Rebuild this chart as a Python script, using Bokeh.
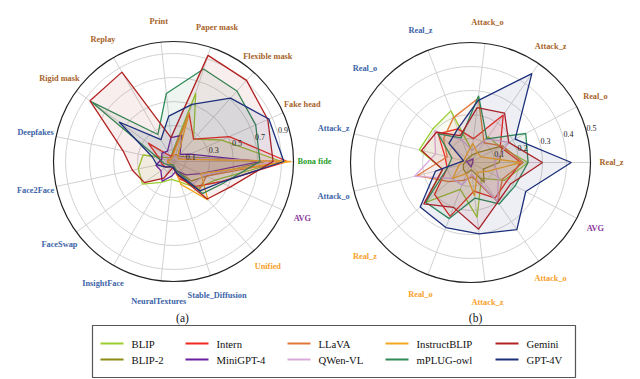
import numpy as np
from bokeh.plotting import figure
from bokeh.models import Range1d
from bokeh.core.properties import value
from bokeh.embed import file_html
from bokeh.resources import INLINE

# ---------------- data ----------------
models = ["BLIP", "BLIP-2", "Intern", "MiniGPT-4", "LLaVA", "QWen-VL",
          "InstructBLIP", "mPLUG-owl", "Gemini", "GPT-4V"]
model_colors = ["#9acd32", "#8c8c14", "#f0281e", "#6a1fa0", "#e07838", "#d9a8d9",
                "#f5a623", "#2e8b57", "#b22222", "#1c2f7a"]

cats_a = ["Bona fide", "Fake head", "Flexible mask", "Paper mask", "Print", "Replay",
          "Rigid mask", "Deepfakes", "Face2Face", "FaceSwap", "InsightFace",
          "NeuralTextures", "Stable_Diffusion", "Unified", "AVG"]
cat_group_a = ["green", "brown", "brown", "brown", "brown", "brown", "brown",
               "blue", "blue", "blue", "blue", "blue", "blue", "orange", "purple"]
ticks_a = [0.1, 0.3, 0.5, 0.7, 0.9]
vmax_a = 1.0

blip_a = [0.90, 0.44, 0.25, 0.60, 0.08, 0.04, 0.05, 0.26, 0.30, 0.32, 0.20, 0.15, 0.18, 0.30, 0.38]
blip2_a = [0.76, 0.10, 0.06, 0.06, 0.04, 0.03, 0.03, 0.05, 0.05, 0.04, 0.04, 0.05, 0.08, 0.22, 0.30]
intern_a = [0.95, 0.51, 0.25, 0.42, 0.06, 0.05, 0.26, 0.12, 0.10, 0.08, 0.05, 0.05, 0.15, 0.28, 0.42]
minigpt4_a = [0.72, 0.15, 0.08, 0.23, 0.20, 0.10, 0.12, 0.10, 0.15, 0.13, 0.19, 0.12, 0.08, 0.15, 0.25]
llava_a = [0.93, 0.06, 0.05, 0.06, 0.04, 0.04, 0.05, 0.05, 0.05, 0.04, 0.04, 0.05, 0.12, 0.32, 0.30]
qwen_a = [0.85, 0.08, 0.05, 0.05, 0.03, 0.03, 0.04, 0.06, 0.05, 0.05, 0.04, 0.06, 0.10, 0.25, 0.28]
instructblip_a = [0.98, 0.05, 0.05, 0.43, 0.05, 0.03, 0.03, 0.05, 0.05, 0.03, 0.03, 0.03, 0.20, 0.43, 0.25]
mplug_a = [0.72, 0.75, 0.79, 0.81, 0.57, 0.26, 0.85, 0.13, 0.08, 0.05, 0.03, 0.03, 0.08, 0.36, 0.45]
gemini_a = [0.83, 0.86, 0.91, 0.93, 0.20, 0.86, 0.86, 0.43, 0.35, 0.30, 0.16, 0.05, 0.12, 0.42, 0.52]
gpt4v_a = [0.92, 0.87, 0.71, 0.50, 0.38, 0.21, 0.56, 0.18, 0.14, 0.08, 0.05, 0.05, 0.11, 0.33, 0.43]

cats_b = ["Real_z", "Real_o", "Attack_z", "Attack_o",
          "Real_z", "Real_o", "Attack_z", "Attack_o",
          "Real_z", "Real_o", "Attack_z", "Attack_o", "AVG"]
cat_group_b = ["brown"] * 4 + ["blue"] * 4 + ["orange"] * 4 + ["purple"]
ticks_b = [0.1, 0.2, 0.3, 0.4, 0.5]
vmax_b = 0.5

blip_b = [0.24, 0.14, 0.13, 0.05, 0.23, 0.21, 0.22, 0.12, 0.25, 0.12, 0.23, 0.08, 0.16]
blip2_b = [0.12, 0.15, 0.05, 0.03, 0.02, 0.02, 0.02, 0.03, 0.04, 0.05, 0.03, 0.10, 0.06]
intern_b = [0.21, 0.14, 0.24, 0.10, 0.15, 0.18, 0.11, 0.10, 0.20, 0.24, 0.12, 0.18, 0.17]
minigpt4_b = [0.01, 0.01, 0.02, 0.01, 0.01, 0.01, 0.02, 0.01, 0.01, 0.01, 0.02, 0.01, 0.01]
llava_b = [0.22, 0.15, 0.10, 0.27, 0.20, 0.15, 0.10, 0.23, 0.12, 0.08, 0.06, 0.20, 0.15]
qwen_b = [0.10, 0.18, 0.12, 0.05, 0.10, 0.20, 0.15, 0.24, 0.10, 0.10, 0.05, 0.20, 0.13]
instructblip_b = [0.21, 0.05, 0.05, 0.08, 0.04, 0.03, 0.03, 0.05, 0.10, 0.05, 0.14, 0.05, 0.08]
mplug_b = [0.24, 0.26, 0.12, 0.28, 0.11, 0.18, 0.08, 0.10, 0.25, 0.25, 0.15, 0.21, 0.21]
gemini_b = [0.30, 0.18, 0.25, 0.23, 0.12, 0.19, 0.21, 0.12, 0.26, 0.20, 0.28, 0.20, 0.19]
gpt4v_b = [0.42, 0.21, 0.45, 0.26, 0.15, 0.12, 0.03, 0.15, 0.28, 0.29, 0.30, 0.34, 0.26]

series_a = [blip_a, blip2_a, intern_a, minigpt4_a, llava_a, qwen_a,
            instructblip_a, mplug_a, gemini_a, gpt4v_a]
series_b = [blip_b, blip2_b, intern_b, minigpt4_b, llava_b, qwen_b,
            instructblip_b, mplug_b, gemini_b, gpt4v_b]

group_colors = {"brown": "#a8642a", "blue": "#3c64a8", "green": "#1f9e1f",
                "orange": "#f7a02a", "purple": "#8e3a9c"}

# ---------------- figure ----------------
W, H = 640, 379
p = figure(width=W, height=H, x_range=Range1d(0, W), y_range=Range1d(H, 0),
           output_backend="svg", toolbar_location=None, min_border=0,
           x_axis_type=None, y_axis_type=None)
p.grid.visible = False
p.outline_line_color = None
p.background_fill_color = "white"
p.border_fill_color = "white"

R = 120.0
LABEL_R = 141.0
SERIF = value("Liberation Serif")


def radar(cx, cy, cats, groups, ticks, vmax, series):
    n = len(cats)
    ang = np.arange(n) * 2 * np.pi / n
    # grid circles
    grid_r = [t / vmax * R for t in ticks if t < vmax]
    p.circle(x=[cx] * len(grid_r), y=[cy] * len(grid_r), radius=grid_r,
             fill_color=None, line_color="#d2d2d2", line_width=1)
    # spokes
    p.segment(x0=[cx] * n, y0=[cy] * n, x1=list(cx + R * np.cos(ang)),
              y1=list(cy - R * np.sin(ang)), line_color="#d2d2d2", line_width=1)
    # outer circle
    p.circle(x=[cx], y=[cy], radius=[R], fill_color=None, line_color="#222222",
             line_width=1.2)
    # series polygons
    for vals, col in zip(series, model_colors):
        v = np.array(vals) / vmax * R
        xs = list(cx + v * np.cos(ang)) + [cx + v[0]]
        ys = list(cy - v * np.sin(ang)) + [cy]
        p.patch(xs, ys, fill_color=col, fill_alpha=0.08, line_color=col,
                line_width=1.3)
    # radial tick labels
    ta = np.deg2rad(16)
    tr = np.array([t / vmax * R + 6 for t in ticks])
    p.text(x=list(cx + tr * np.cos(ta)), y=list(cy - tr * np.sin(ta)),
           text=[f"{t:.1f}" for t in ticks], text_align="center",
           text_baseline="middle", text_font=SERIF, text_font_size="8px",
           text_color="#222222")
    # category labels
    p.text(x=list(cx + LABEL_R * np.cos(ang)), y=list(cy - LABEL_R * np.sin(ang)),
           text=cats, text_align="center", text_baseline="middle",
           text_font=SERIF, text_font_style="bold", text_font_size="8.3px",
           text_color=[group_colors[g] for g in groups])


radar(173, 161, cats_a, cat_group_a, ticks_a, vmax_a, series_a)
radar(470, 162, cats_b, cat_group_b, ticks_b, vmax_b, series_b)

# sub captions
p.text(x=[182, 475], y=[317, 317], text=["(a)", "(b)"], text_align="center",
       text_baseline="middle", text_font=SERIF, text_font_size="11.5px",
       text_color="#111111")

# legend
p.quad(left=[92], right=[575], top=[325], bottom=[377], fill_color="white",
       line_color="#555555", line_width=1.2)
col_x = [100, 185, 287, 385, 495]
row_y = [343, 359]
for i, (name, col) in enumerate(zip(models, model_colors)):
    x0 = col_x[i // 2]
    y0 = row_y[i % 2]
    p.segment(x0=[x0], y0=[y0], x1=[x0 + 23], y1=[y0], line_color=col, line_width=2)
    p.text(x=[x0 + 31], y=[y0], text=[name], text_align="left", text_baseline="middle",
           text_font=SERIF, text_font_size="10.7px", text_color="#111111")

open("out.html", "w").write(file_html(p, INLINE))
